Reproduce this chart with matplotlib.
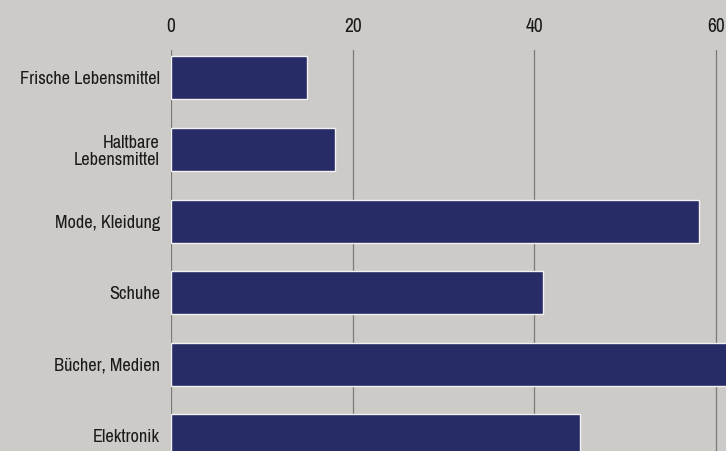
import matplotlib
matplotlib.use("Agg")
import matplotlib.pyplot as plt

# data
categories = ["Frische Lebensmittel", "Haltbare\nLebensmittel", "Mode, Kleidung",
              "Schuhe", "Bücher, Medien", "Elektronik"]
values = [15.0, 18.1, 58.1, 41.0, 64.0, 45.0]
ticks = [0, 20, 40, 60]

plt.rcParams["font.family"] = ["Archivo Narrow", "DejaVu Sans"]

bg = "#cdcbc7"
fig = plt.figure(figsize=(7.26, 4.51), dpi=100, facecolor=bg)
ax = fig.add_axes([171 / 726, 0, 555 / 726, 401 / 451])
ax.set_facecolor(bg)

ypos = range(len(categories))
ax.barh(ypos, values, height=0.6, color="#272b66", edgecolor="#f2f2f2",
        linewidth=1.0, zorder=3)

ax.set_xlim(0, 61.1)
ax.set_ylim(5.21, -0.39)
ax.set_xticks(ticks)
ax.xaxis.tick_top()
ax.tick_params(axis="x", length=0, pad=10, labelsize=14, labelcolor="#1a1a1a")
ax.set_yticks(list(ypos))
ax.set_yticklabels(categories, fontsize=13.2, color="#1a1a1a", linespacing=1.1)
ax.tick_params(axis="y", length=0, pad=8)
ax.grid(axis="x", color="#7a7a7a", linewidth=0.9, zorder=1)
for s in ax.spines.values():
    s.set_visible(False)

fig.savefig("out.png", dpi=100, facecolor=bg)
